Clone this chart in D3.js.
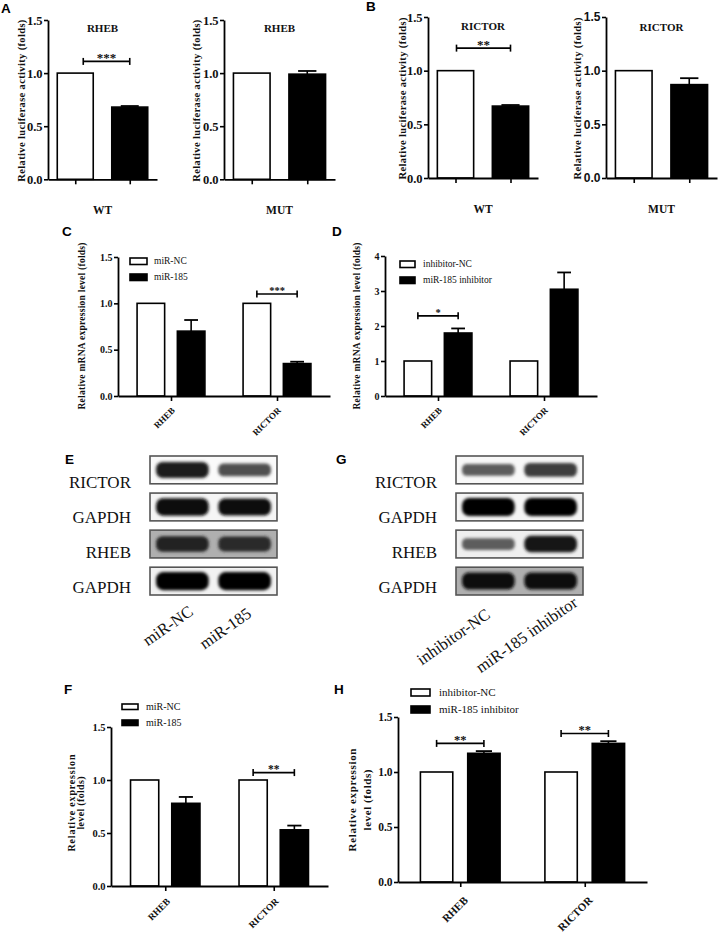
<!DOCTYPE html>
<html><head><meta charset="utf-8">
<script src="https://cdn.jsdelivr.net/npm/d3@7"></script>
<style>body{margin:0;background:#fff} svg{display:block}</style>
</head><body><svg id="fig" width="719" height="933"></svg>
<script>
// ---------------- DATA ----------------
const lucGroups = ["Control", "miR-185"];
const lucConditions = ["WT", "MUT"];
const lucTicks = [0, 0.5, 1.0, 1.5];
const rhebLucWT = [1.00, 0.68];   const rhebLucWTErr = [0, 0.01];
const rhebLucMUT = [1.00, 0.99];  const rhebLucMUTErr = [0, 0.03];
const rictorLucWT = [1.00, 0.67]; const rictorLucWTErr = [0, 0.01];
const rictorLucMUT = [1.00, 0.87];const rictorLucMUTErr = [0, 0.06];

const genes = ["RHEB", "RICTOR"];
const mimicLegend = ["miR-NC", "miR-185"];
const inhibLegend = ["inhibitor-NC", "miR-185 inhibitor"];
const ticks15 = [0, 0.5, 1.0, 1.5];
const ticks4 = [0, 1, 2, 3, 4];

const mrnaMimicNC = [1.00, 1.00];   const mrnaMimic185 = [0.70, 0.35]; const mrnaMimic185Err = [0.12, 0.02];
const mrnaInhibNC = [1.00, 1.00];   const mrnaInhib185 = [1.80, 3.05]; const mrnaInhib185Err = [0.13, 0.48];
const protMimicNC = [1.00, 1.00];   const protMimic185 = [0.78, 0.53]; const protMimic185Err = [0.06, 0.04];
const protInhibNC = [1.00, 1.00];   const protInhib185 = [1.17, 1.26]; const protInhib185Err = [0.02, 0.02];

// significance: [gene index, label, bracket height (data units)]
const sigMrnaMimic = [[1, "***", 1.10]];
const sigMrnaInhib = [[0, "*", 2.29]];
const sigProtMimic = [[1, "**", 1.07]];
const sigProtInhib = [[0, "**", 1.26], [1, "**", 1.35]];

const blotRows = ["RICTOR", "GAPDH", "RHEB", "GAPDH"];
const blotMimicBands = [[0.85, 0.62], [0.95, 0.92], [0.82, 0.78], [1.0, 1.0]];
const blotMimicBg = [0.04, 0.08, 0.42, 0.1];
const blotInhibBands = [[0.55, 0.7], [1.0, 1.0], [0.55, 0.88], [0.92, 0.92]];
const blotInhibBg = [0.06, 0.08, 0.12, 0.42];

// ---------------- DRAWING ----------------
const SERIF = "'Liberation Serif','Times New Roman',serif";
const SANS = "'Liberation Sans',Arial,sans-serif";
const svg = d3.select("#fig");

const defs = svg.append("defs");
defs.append("filter").attr("id", "blur").attr("x", "-20%").attr("y", "-60%").attr("width", "140%").attr("height", "220%")
  .append("feGaussianBlur").attr("stdDeviation", 1.8);

function styleAxis(ax, font, fs, weight) {
  ax.select(".domain").attr("stroke", "#000").attr("stroke-width", 1.8);
  ax.selectAll(".tick line").attr("stroke", "#000").attr("stroke-width", 1.6);
  ax.selectAll(".tick text").attr("fill", "#111").style("font-family", font).style("font-size", fs + "px").style("font-weight", weight || "bold");
}

function yLabel(g, lines, cx, cy, fs, len, gap) {
  lines.forEach((t, i) => {
    const bx = cx + i * (gap || 0) + fs * 0.35;
    const tx = g.append("text").attr("transform", `translate(${bx},${cy}) rotate(-90)`)
      .attr("text-anchor", "middle").style("font-family", SERIF).style("font-weight", "bold")
      .style("font-size", fs + "px").attr("fill", "#111").text(t);
    if (len && len[i]) tx.attr("textLength", len[i]).attr("lengthAdjust", "spacing");
  });
}

function drawBars(g, cx, y, v, e, bw, fill) {
  g.append("rect").attr("x", cx - bw / 2).attr("y", y(v)).attr("width", bw).attr("height", y(0) - y(v))
    .attr("fill", fill).attr("stroke", "#000").attr("stroke-width", 1.6);
  if (e > 0) {
    const cw = bw * 0.5;
    g.append("line").attr("x1", cx).attr("x2", cx).attr("y1", y(v)).attr("y2", y(v + e)).attr("stroke", "#000").attr("stroke-width", 1.6);
    g.append("line").attr("x1", cx - cw / 2).attr("x2", cx + cw / 2).attr("y1", y(v + e)).attr("y2", y(v + e)).attr("stroke", "#000").attr("stroke-width", 1.8);
  }
}

function sigBracket(g, xa, xb, yy, label, fs) {
  g.append("line").attr("x1", xa).attr("x2", xb).attr("y1", yy).attr("y2", yy).attr("stroke", "#000").attr("stroke-width", 1.6);
  [xa, xb].forEach(xx => g.append("line").attr("x1", xx).attr("x2", xx).attr("y1", yy - 3.5).attr("y2", yy + 3.5).attr("stroke", "#000").attr("stroke-width", 1.6));
  g.append("text").attr("x", (xa + xb) / 2).attr("y", yy - 3 + fs * 0.3).attr("text-anchor", "middle")
    .style("font-family", SERIF).style("font-weight", "bold").style("font-size", fs + "px").attr("fill", "#111").text(label);
}

function panelLetter(t, x, y) {
  svg.append("text").attr("x", x).attr("y", y).style("font-family", SANS).style("font-weight", "bold")
    .style("font-size", "13.5px").attr("fill", "#000").text(t);
}

// Luciferase panels (A, B)
function lucPanel(cfg, vals, errs) {
  const g = svg.append("g");
  const y = d3.scaleLinear().domain([0, 1.5]).range([cfg.yb, cfg.yt]);
  const x = d3.scalePoint().domain(lucGroups).range([cfg.x0, cfg.x1]).padding(0.5);
  const bw = x.step() * 0.66;
  lucGroups.forEach((k, i) => drawBars(g, x(k), y, vals[i], errs[i], bw, i === 0 ? "#fff" : "#000"));
  const ya = g.append("g").attr("transform", `translate(${cfg.x0},0)`)
    .call(d3.axisLeft(y).tickValues(lucTicks).tickFormat(d3.format(".1f")).tickSize(4).tickSizeOuter(0).tickPadding(1.5));
  styleAxis(ya, cfg.tickFont || SERIF, cfg.tickFs || 12.5);
  const xa = g.append("g").attr("transform", `translate(0,${y(0)})`)
    .call(d3.axisBottom(x).tickSize(5).tickSizeOuter(0).tickFormat(""));
  styleAxis(xa, SERIF, 10);
  const mid = (x(lucGroups[0]) + x(lucGroups[1])) / 2;
  g.append("text").attr("x", mid).attr("y", cfg.titleY).attr("text-anchor", "middle").style("font-family", SERIF)
    .style("font-weight", "bold").style("font-size", "11px").attr("fill", "#111").text(cfg.title);
  g.append("text").attr("x", mid).attr("y", cfg.condY).attr("text-anchor", "middle").style("font-family", SERIF)
    .style("font-weight", "bold").style("font-size", "11.5px").attr("fill", "#111").text(cfg.cond);
  yLabel(g, ["Relative luciferase activity (folds)"], cfg.labX, (cfg.yb + cfg.yt) / 2 + 1, 10.5, [162]);
  if (cfg.sig) sigBracket(g, x(lucGroups[0]) + cfg.sigOff, x(lucGroups[1]), y(cfg.sig[1]), cfg.sig[0], 13);
}

lucPanel({x0: 48, x1: 157, yb: 179.3, yt: 20, title: "RHEB", titleY: 32, cond: lucConditions[0], condY: 214, labX: 21, sig: ["***", 1.11], sigOff: 8}, rhebLucWT, rhebLucWTErr);
lucPanel({x0: 224, x1: 335, yb: 179.3, yt: 20, title: "RHEB", titleY: 32, cond: lucConditions[1], condY: 214, labX: 196}, rhebLucMUT, rhebLucMUTErr);
lucPanel({x0: 428, x1: 538, yb: 178, yt: 17, title: "RICTOR", titleY: 30, cond: lucConditions[0], condY: 213, labX: 402, sig: ["**", 1.21], sigOff: 1}, rictorLucWT, rictorLucWTErr);
lucPanel({x0: 606, x1: 717, yb: 178, yt: 17, title: "RICTOR", titleY: 31, cond: lucConditions[1], condY: 213, labX: 577, tickFont: SANS, tickFs: 12}, rictorLucMUT, rictorLucMUTErr);

// Grouped panels (C, D, F, H)
function groupPanel(cfg, series, errs, legend, sigs) {
  const g = svg.append("g");
  const y = d3.scaleLinear().domain([0, cfg.max]).range([cfg.yb, cfg.yt]);
  const x = d3.scalePoint().domain(genes).range([cfg.x0, cfg.x1]).padding(0.5);
  const bw = x.step() * 0.26, gap = x.step() * 0.12;
  const off = i => (i - 0.5) * (bw + gap);
  const fills = ["#fff", "#000"];
  genes.forEach((gn, j) => series.forEach((s, i) => drawBars(g, x(gn) + off(i), y, s[j], errs[i][j], bw, fills[i])));
  const ya = g.append("g").attr("transform", `translate(${cfg.x0},0)`)
    .call(d3.axisLeft(y).tickValues(cfg.ticks).tickFormat(cfg.fmt).tickSize(4).tickSizeOuter(0).tickPadding(1.5));
  styleAxis(ya, SERIF, cfg.tickFs);
  const xa = g.append("g").attr("transform", `translate(0,${y(0)})`)
    .call(d3.axisBottom(x).tickSize(5).tickSizeOuter(0));
  styleAxis(xa, SERIF, cfg.catFs);
  xa.selectAll(".tick text").attr("y", 0).attr("dy", 0).attr("text-anchor", "end")
    .attr("transform", `translate(${cfg.catDx},${cfg.catDy}) rotate(-45)`);
  // legend
  legend.forEach((t, i) => {
    const ly = cfg.legY + i * cfg.legStep;
    g.append("rect").attr("x", cfg.legX).attr("y", ly).attr("width", cfg.legW).attr("height", cfg.legH)
      .attr("fill", fills[i]).attr("stroke", "#000").attr("stroke-width", 1.6);
    g.append("text").attr("x", cfg.legX + cfg.legW + cfg.legGap).attr("y", ly + cfg.legH / 2 + cfg.legFs * 0.33)
      .style("font-family", SERIF).style("font-size", cfg.legFs + "px").attr("fill", "#111").text(t);
  });
  sigs.forEach(([gi, lab, h]) => sigBracket(g, x(genes[gi]) + off(0), x(genes[gi]) + off(1), y(h), lab, cfg.sigFs));
  yLabel(g, cfg.ylab, cfg.labX, cfg.labY, cfg.labFs, cfg.labLen, cfg.labGap);
}

groupPanel({x0: 118, x1: 330, yb: 396, yt: 257, max: 1.5, ticks: ticks15, fmt: d3.format(".1f"), tickFs: 10, catFs: 9, catDx: 4, catDy: 15,
  legX: 130, legY: 258, legStep: 16, legW: 17, legH: 6.5, legGap: 7, legFs: 9.5, sigFs: 10.5,
  ylab: ["Relative mRNA expression level (folds)"], labX: 82, labY: 326, labFs: 9.5, labLen: [167]},
  [mrnaMimicNC, mrnaMimic185], [[0, 0], mrnaMimic185Err], mimicLegend, sigMrnaMimic);

groupPanel({x0: 385, x1: 597, yb: 396, yt: 256, max: 4, ticks: ticks4, fmt: d3.format("d"), tickFs: 10, catFs: 9, catDx: 4, catDy: 15,
  legX: 400, legY: 261, legStep: 16, legW: 15, legH: 6.5, legGap: 8, legFs: 9.5, sigFs: 10.5,
  ylab: ["Relative mRNA expression level (folds)"], labX: 357, labY: 326, labFs: 9.5, labLen: [167]},
  [mrnaInhibNC, mrnaInhib185], [[0, 0], mrnaInhib185Err], inhibLegend, sigMrnaInhib);

groupPanel({x0: 111, x1: 328, yb: 886, yt: 727, max: 1.5, ticks: ticks15, fmt: d3.format(".1f"), tickFs: 10.5, catFs: 9.5, catDx: 5, catDy: 16,
  legX: 122, legY: 704, legStep: 16, legW: 16, legH: 5.5, legGap: 8, legFs: 10, sigFs: 11.5,
  ylab: ["Relative  expression", "level (folds)"], labX: 71, labY: 803, labFs: 10, labLen: [97, 53], labGap: 9},
  [protMimicNC, protMimic185], [[0, 0], protMimic185Err], mimicLegend, sigProtMimic);

groupPanel({x0: 398, x1: 647, yb: 882, yt: 717, max: 1.5, ticks: ticks15, fmt: d3.format(".1f"), tickFs: 11.5, catFs: 11, catDx: 8, catDy: 19,
  legX: 411, legY: 689, legStep: 17, legW: 19, legH: 7, legGap: 9, legFs: 11, sigFs: 12.5,
  ylab: ["Relative  expression", "level (folds)"], labX: 352, labY: 800, labFs: 11, labLen: [103, 61], labGap: 15},
  [protInhibNC, protInhib185], [[0, 0], protInhib185Err], inhibLegend, sigProtInhib);

// Western blots (E, G)
function blotPanel(cfg, lanes, bands, bgs) {
  const g = svg.append("g");
  const yRow = d3.scaleBand().domain(d3.range(blotRows.length)).range([456, 595]).paddingInner(0.25);
  const yLab = d3.scalePoint().domain(d3.range(blotRows.length)).range([488, 593]);
  const xLane = d3.scaleBand().domain(lanes).range([cfg.x0, cfg.x1]).paddingInner(0.1).paddingOuter(0.07);
  blotRows.forEach((name, r) => {
    const y0 = yRow(r), h = yRow.bandwidth();
    const cid = `clip-${cfg.id}-${r}`;
    defs.append("clipPath").attr("id", cid).append("rect").attr("x", cfg.x0).attr("y", y0).attr("width", cfg.x1 - cfg.x0).attr("height", h);
    const rg = g.append("g").attr("clip-path", `url(#${cid})`);
    rg.append("rect").attr("x", cfg.x0).attr("y", y0).attr("width", cfg.x1 - cfg.x0).attr("height", h).attr("fill", d3.interpolateGreys(bgs[r]));
    lanes.forEach((ln, l) => {
      const v = bands[r][l];
      const th = h * (0.15 + 0.5 * v);
      const bx = xLane(ln) + xLane.bandwidth() * 0.03, bwid = xLane.bandwidth() * 0.94;
      rg.append("rect").attr("x", bx).attr("y", y0 + h / 2 - th / 2).attr("width", bwid).attr("height", th)
        .attr("rx", th / 2.5).attr("fill", d3.interpolateGreys(0.35 + 0.65 * v)).attr("filter", "url(#blur)");
    });
    g.append("rect").attr("x", cfg.x0).attr("y", y0).attr("width", cfg.x1 - cfg.x0).attr("height", h)
      .attr("fill", "none").attr("stroke", "#555").attr("stroke-width", 1.6);
    g.append("text").attr("x", cfg.x0 - 19).attr("y", yLab(r)).attr("text-anchor", "end")
      .style("font-family", SERIF).style("font-size", "17px").attr("fill", "#111").text(name);
  });
  lanes.forEach((ln, l) => {
    const cx = xLane(ln) + xLane.bandwidth() / 2 + cfg.labOff[l];
    g.append("text").attr("transform", `translate(${cx},${cfg.labY[l]}) rotate(-35)`).attr("text-anchor", "end")
      .style("font-family", SERIF).style("font-size", "16.5px").attr("fill", "#111").text(ln);
  });
}
blotPanel({id: "E", x0: 150, x1: 277, labOff: [12, 8], labY: [614, 616]}, mimicLegend, blotMimicBands, blotMimicBg);
blotPanel({id: "G", x0: 456, x1: 583, labOff: [3, 28], labY: [617, 605]}, inhibLegend, blotInhibBands, blotInhibBg);

// panel letters
panelLetter("A", 1, 13); panelLetter("B", 366, 11);
panelLetter("C", 62, 236); panelLetter("D", 332, 236);
panelLetter("E", 65, 464); panelLetter("G", 336, 464);
panelLetter("F", 64, 694); panelLetter("H", 334, 694);
</script></body></html>
